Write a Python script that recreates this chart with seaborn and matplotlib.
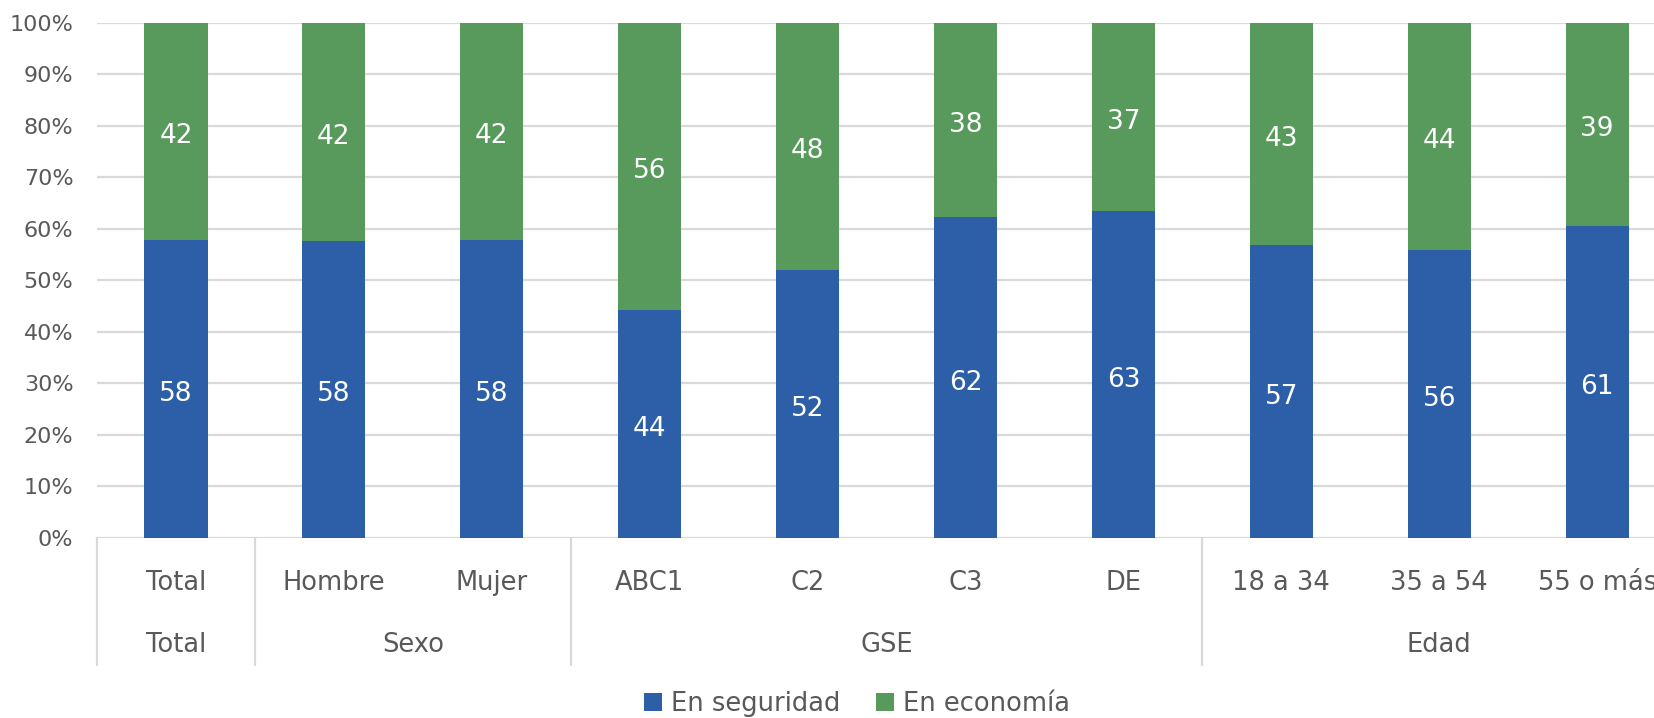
import matplotlib
matplotlib.use("Agg")
import matplotlib.pyplot as plt
import matplotlib.transforms as mtransforms
from matplotlib.patches import Patch
import seaborn as sns
import pandas as pd

categories = ["Total", "Hombre", "Mujer", "ABC1", "C2", "C3", "DE", "18 a 34", "35 a 54", "55 o más"]
groups = ["Total", "Sexo", "GSE", "Edad"]
group_spans = [(0, 0), (1, 2), (3, 6), (7, 9)]
seguridad = [57.8, 57.6, 57.8, 44.3, 52.1, 62.2, 63.4, 56.8, 55.8, 60.6]
economia = [100 - v for v in seguridad]
yticks = [0, 10, 20, 30, 40, 50, 60, 70, 80, 90, 100]
ytick_labels = [f"{t}%" for t in yticks]
series_names = ["En seguridad", "En economía"]

BLUE = "#2C5FA8"
GREEN = "#579A5B"
TXT = "#595959"
GRID = "#D9D9D9"

sns.set_theme(style="white")
plt.rcParams["font.family"] = ["DejaVu Sans"]

df = pd.DataFrame({"cat": categories, "seg": seguridad, "eco": economia})

fig = plt.figure(figsize=(16.54, 7.18), dpi=100)
ax = fig.add_axes([97 / 1654, 1 - 538 / 718, 1 - 97 / 1654, (538 - 22.7) / 718])

sns.barplot(data=df, x="cat", y="seg", color=BLUE, width=0.4, saturation=1, ax=ax, zorder=3, linewidth=0)
sns.barplot(data=df, x="cat", y="eco", bottom=df["seg"], color=GREEN, width=0.4, saturation=1, ax=ax,
            zorder=3, linewidth=0)

for cont in ax.containers:
    anns = ax.bar_label(cont, labels=[f"{round(b.get_height()):d}" for b in cont], label_type="center",
                        color="white", fontsize=19)
    for a in anns:
        a.xyann = (0, -3.5)

ax.set_xlim(-0.5, 9.36)
ax.set_ylim(0, 100)
ax.set_yticks(yticks)
ax.set_yticklabels(ytick_labels, color=TXT, fontsize=16)
ax.tick_params(axis="y", length=0, pad=17)
ax.set_xticks([])
ax.set_xlabel("")
ax.set_ylabel("")
for s in ax.spines.values():
    s.set_visible(False)
ax.yaxis.grid(True, color=GRID, linewidth=1.6, zorder=0)
ax.set_axisbelow(True)

trans = mtransforms.blended_transform_factory(ax.transData, ax.transAxes)
for i, c in enumerate(categories):
    ax.text(i, -0.087, c, transform=trans, ha="center", va="center", fontsize=18.5, color=TXT, clip_on=False)
for g, (a, b) in zip(groups, group_spans):
    ax.text((a + b) / 2, -0.208, g, transform=trans, ha="center", va="center", fontsize=18.5, color=TXT,
            clip_on=False)
for xs in [-0.5, 0.5, 2.5, 6.5]:
    ax.plot([xs, xs], [0, -0.247], transform=trans, color=GRID, linewidth=1.6, clip_on=False)

handles = [Patch(facecolor=BLUE, edgecolor="none"), Patch(facecolor=GREEN, edgecolor="none")]
fig.legend(handles, series_names, loc="center", bbox_to_anchor=(0.518, 1 - 704 / 718), ncol=2,
           frameon=False, fontsize=18.5, handlelength=0.7, handleheight=0.7, handletextpad=0.35,
           columnspacing=1.4, labelcolor=TXT)

fig.savefig("out.png", dpi=100)
